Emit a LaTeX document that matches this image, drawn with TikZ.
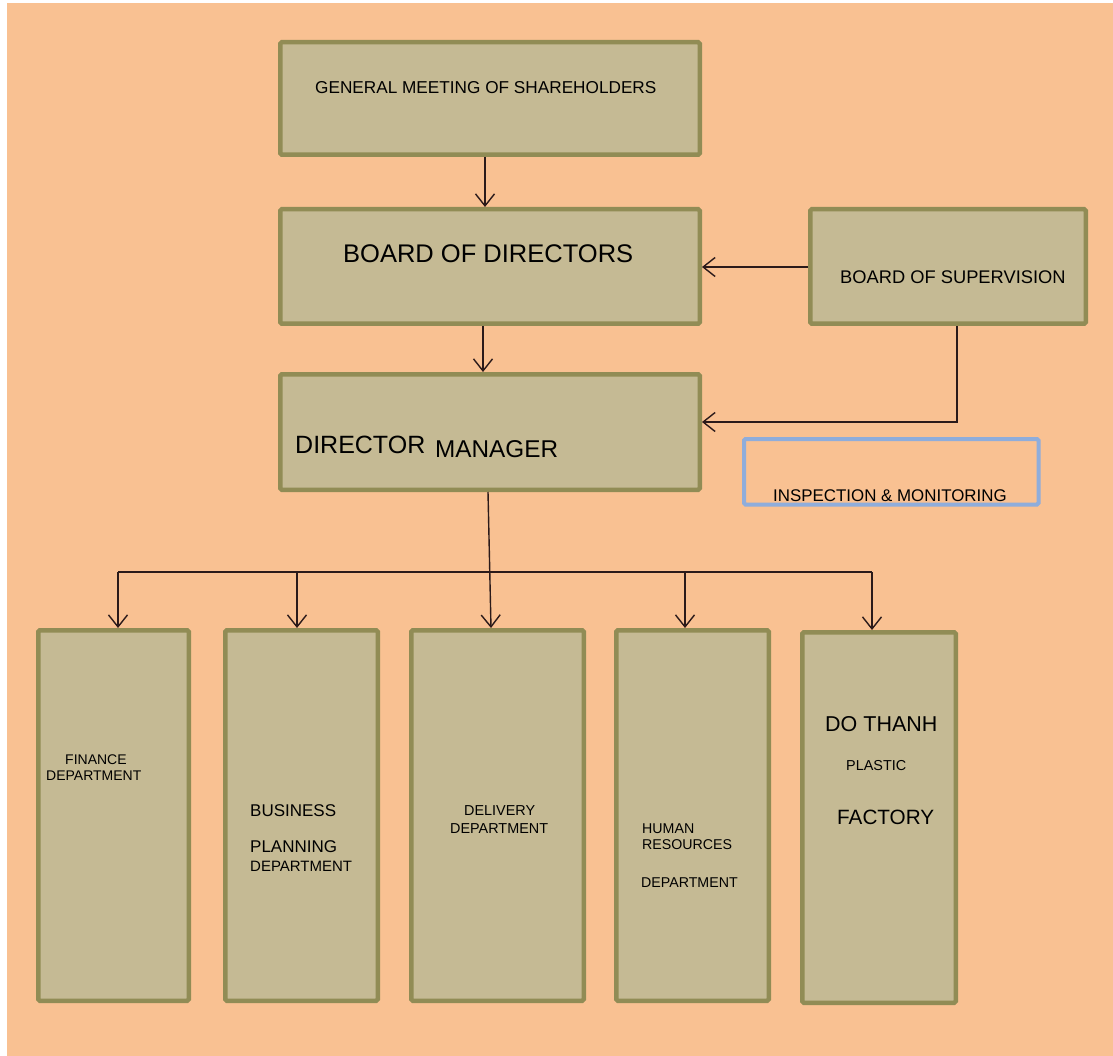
\documentclass[tikz,border=0pt]{standalone}
\usepackage{fontspec}
\setmainfont{Liberation Sans}
\usetikzlibrary{arrows.meta}
\definecolor{peach}{HTML}{F9C192}
\definecolor{khaki}{HTML}{C5BA94}
\definecolor{olive}{HTML}{918C55}
\definecolor{arrowc}{HTML}{2B1A1A}
\definecolor{lblue}{HTML}{8FADDB}
\newcommand{\fs}[1]{\fontsize{#1}{#1}\selectfont}
\tikzset{
  box/.style={draw=olive, fill=khaki, line width=4.5pt, rounded corners=1.5pt, inner sep=0pt},
  inspbox/.style={draw=lblue, line width=4pt, rounded corners=1.5pt, inner sep=0pt},
  lbl/.style={inner sep=0pt, anchor=base west, text=black},
  arr/.style={draw=arrowc, line width=1.4pt, -{Straight Barb[length=12pt,width=19pt]}},
  ln/.style={draw=arrowc, line width=1.4pt}
}
% place box by outer edges: style, name, x1,y1,x2,y2
\newcommand{\mybox}[6]{%
  \node[#1, anchor=north west, minimum width=#5-#3-4.5pt, minimum height=#6-#4-4.5pt] (#2) at (#3,#4) {};}
\begin{document}
\begin{tikzpicture}[x=1pt,y=-1pt]
\useasboundingbox (0,0) rectangle (1113,1056);
\fill[white] (0,0) rectangle (1113,1056);
\fill[peach] (7,3) rectangle (1113,1056);

\mybox{box}{gms}{278}{40}{702}{157}
\mybox{box}{bod}{278}{207}{702}{326}
\mybox{box}{bos}{808}{207}{1088}{326}
\mybox{box}{dm}{278}{372}{702}{492}
\mybox{inspbox}{insp}{742}{437}{1041}{507}
\mybox{box}{fin}{36}{628}{191}{1003}
\mybox{box}{bus}{223}{628}{380}{1003}
\mybox{box}{del}{409}{628}{586}{1003}
\mybox{box}{hr}{614}{628}{771}{1003}
\mybox{box}{dot}{800}{630}{958}{1005}

\node[lbl] (tgms) at (315,94) {\fs{17.2}GENERAL MEETING OF SHAREHOLDERS};
\node[lbl] (tbod) at (343,263) {\fs{25.5}BOARD OF DIRECTORS};
\node[lbl] (tbos) at (840,284) {\fs{18.3}BOARD OF SUPERVISION};
\node[lbl] (tdir) at (295,453) {\fs{25}DIRECTOR};
\node[lbl] (tman) at (435,457) {\fs{24.3}MANAGER};
\node[lbl] (tinsp) at (773,501.5) {\fs{16.9}INSPECTION \& MONITORING};
\node[lbl] (tfin1) at (65,764) {\fs{14}FINANCE};
\node[lbl] (tfin2) at (46,780) {\fs{14}DEPARTMENT};
\node[lbl] (tbus1) at (250,816) {\fs{17}BUSINESS};
\node[lbl] (tbus2) at (250,852) {\fs{17}PLANNING};
\node[lbl] (tbus3) at (250,871) {\fs{15}DEPARTMENT};
\node[lbl] (tdel1) at (464,815) {\fs{14.4}DELIVERY};
\node[lbl] (tdel2) at (450,833) {\fs{14.4}DEPARTMENT};
\node[lbl] (thr1) at (642,833) {\fs{14.2}HUMAN};
\node[lbl] (thr2) at (642,849) {\fs{14.2}RESOURCES};
\node[lbl] (thr3) at (641,887) {\fs{14.2}DEPARTMENT};
\node[lbl] (tdot1) at (825,731) {\fs{21.5}DO THANH};
\node[lbl] (tdot2) at (846,770) {\fs{14.4}PLASTIC};
\node[lbl] (tdot3) at (837,824) {\fs{20.7}FACTORY};

% connectors
\draw[arr] (gms.south -| 485,0) -- (bod.north -| 485,0);
\draw[arr] (bos.west |- 0,267) -- (bod.east |- 0,267);
\draw[arr] (bod.south -| 483,0) -- (dm.north -| 483,0);
\draw[arr] (bos.south -| 957,0) |- (dm.east |- 0,422);
\draw[arr] (dm.south -| 488,0) -- (del.north -| 491,0);

\coordinate (busL) at (118,572);
\coordinate (busB) at (297,572);
\coordinate (busH) at (685,572);
\coordinate (busR) at (872,572);
\draw[ln] (busL) -- (busR);
\draw[arr] (busL) -- (fin.north -| busL);
\draw[arr] (busB) -- (bus.north -| busB);
\draw[arr] (busH) -- (hr.north -| busH);
\draw[arr] (busR) -- (dot.north -| busR);
\end{tikzpicture}
\end{document}
